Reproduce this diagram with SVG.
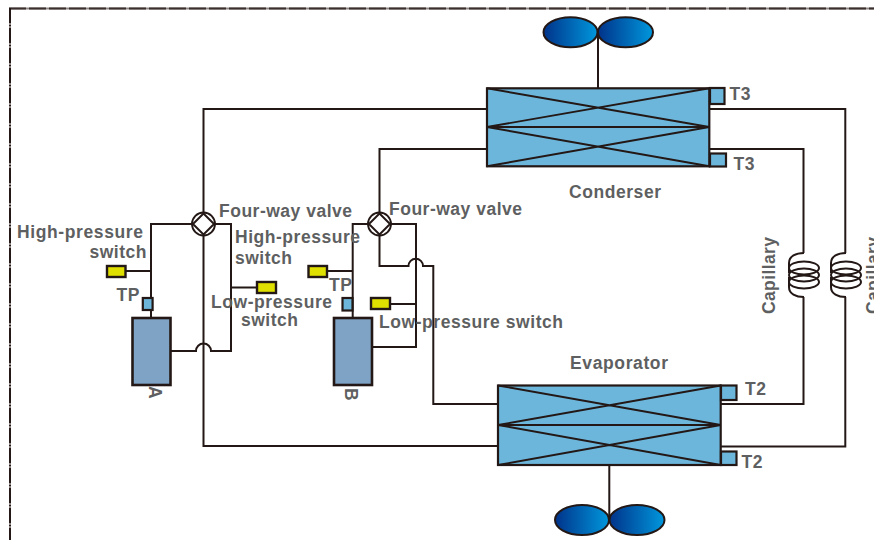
<svg xmlns="http://www.w3.org/2000/svg" width="874" height="540" viewBox="0 0 874 540">
<style>
.ln{fill:none;stroke:#231815;stroke-width:2}
.hx{fill:#6cb6dc;stroke:#231815;stroke-width:2.2}
.x{fill:none;stroke:#231815;stroke-width:1.9}
.tb{fill:#6cb6dc;stroke:#231815;stroke-width:2.2}
.comp{fill:#7fa3c4;stroke:#231815;stroke-width:2.6}
.sw{fill:#dfe000;stroke:#231815;stroke-width:2.4}
.fan{fill:url(#fg);stroke:#231815;stroke-width:2}
.valve{fill:#fff;stroke:#231815;stroke-width:1.9;stroke-linejoin:round}
text{font-family:"Liberation Sans",Arial,sans-serif;font-weight:bold;font-size:17.5px;fill:#5e5f61}
</style>
<defs>
<linearGradient id="fg" x1="0" y1="0" x2="1" y2="0"><stop offset="0" stop-color="#00338a"/><stop offset="1" stop-color="#0097dc"/></linearGradient>
<g id="coil">
<path class="ln" d="M0,-22 C-8,-22 -15,-19 -15,-12 C-15,-8 -15,-6 -15,-2 M-15,2 C-15,6 -15,8 -15,12 C-15,19 -8,22 0,22"/>
<ellipse class="ln" cx="0" cy="-7" rx="15" ry="6.5"/>
<ellipse class="ln" cx="0" cy="0" rx="15" ry="6.5"/>
<ellipse class="ln" cx="0" cy="7" rx="15" ry="6.5"/>
</g>
</defs>
<g id="border" fill="none">
<path d="M9,8.5H874" stroke="#8f8785" stroke-width="1.8"/>
<path d="M9,8.5H874" stroke="#3a2f2d" stroke-width="1.8" stroke-dasharray="17 3"/>
<path d="M10,8V540" stroke="#8f8785" stroke-width="2"/>
<path d="M10,8V540" stroke="#231815" stroke-width="2" stroke-dasharray="15 2 1 2"/>
</g>
<g id="connectors">
<path class="ln" d="M487,109H203.5V212M203.5,236V446H498"/>
<path class="ln" d="M487,149H379.5V212"/>
<path class="ln" d="M709,109H845.3V253M845.3,297V446.5H721"/>
<path class="ln" d="M709,149H803.5V253M803.5,297V404H721"/>
<path class="ln" d="M192,224H151V318M215,224H231V351H211A7.5,7.5 0 0 0 196,351H171"/>
<path class="ln" d="M126,271H151M231,287.5H257"/>
<path class="ln" d="M368,224H352.7V318M391,224H416V347H372"/>
<path class="ln" d="M379.5,235V266H408.5A7.2,7.2 0 0 1 423,266H433.3V404H498"/>
<path class="ln" d="M327,271H352.7M390,304H416"/>
<path class="ln" d="M598,32V88M609.3,465V520"/>
</g>
<g id="valve-a"><circle class="valve" cx="203.5" cy="224" r="11.5"/><path class="valve" d="M203.5,213.5L214,224L203.5,234.5L193,224Z"/></g>
<g id="valve-b"><circle class="valve" cx="379.5" cy="224" r="11.5"/><path class="valve" d="M379.5,213.5L390,224L379.5,234.5L369,224Z"/></g>
<g id="condenser">
<rect class="hx" x="487" y="88.3" width="222.3" height="78"/>
<path class="x" d="M487,88.3L709.3,127M709.3,88.3L487,127M487,127H709.3M487,127L709.3,166.3M709.3,127L487,166.3"/>
</g>
<g id="evaporator">
<rect class="hx" x="498" y="385.5" width="222.7" height="79.5"/>
<path class="x" d="M498,385.5L720.7,425M720.7,385.5L498,425M498,425H720.7M498,425L720.7,465M720.7,425L498,465"/>
</g>
<g id="fan-top"><ellipse class="fan" cx="570.5" cy="32.3" rx="27" ry="15"/><ellipse class="fan" cx="625.5" cy="32.3" rx="27.5" ry="15"/></g>
<g id="fan-bottom"><ellipse class="fan" cx="582" cy="520" rx="27" ry="15"/><ellipse class="fan" cx="637" cy="520" rx="27.5" ry="15"/></g>
<g id="t3-top"><rect class="tb" x="710" y="88" width="14.5" height="16"/><text x="729.5" y="100" textLength="21">T3</text></g>
<g id="t3-bottom"><rect class="tb" x="710" y="153.5" width="16" height="13"/><text x="733.5" y="169.5" textLength="21">T3</text></g>
<g id="t2-top"><rect class="tb" x="721" y="385.5" width="15.5" height="14.5"/><text x="745" y="395" textLength="21">T2</text></g>
<g id="t2-bottom"><rect class="tb" x="721" y="451.5" width="15.5" height="13.5"/><text x="741.5" y="467.5" textLength="21">T2</text></g>
<g id="capillary-1"><use href="#coil" x="804" y="275"/><text transform="translate(774.5,314) rotate(-90)" textLength="77">Capillary</text></g>
<g id="capillary-2"><use href="#coil" x="846" y="275"/><text transform="translate(879,314) rotate(-90)" textLength="77">Capillary</text></g>
<g id="compressor-a"><rect class="comp" x="132.5" y="318" width="38" height="67"/><text transform="translate(148.5,386) rotate(90)">A</text></g>
<g id="compressor-b"><rect class="comp" x="334" y="318" width="38" height="67"/><text transform="translate(345,388) rotate(90)">B</text></g>
<g id="tp-a"><rect class="tb" x="142.8" y="298" width="9.8" height="12"/><text x="116.5" y="300.5" textLength="23">TP</text></g>
<g id="tp-b"><rect class="tb" x="342.5" y="298" width="10" height="12.5"/><text x="329" y="290.5" textLength="23">TP</text></g>
<g id="switch-a-high"><rect class="sw" x="107" y="266" width="18.5" height="11"/><text x="17" y="237.5" textLength="126">High-pressure</text><text x="89.5" y="258" textLength="57">switch</text></g>
<g id="switch-a-low"><rect class="sw" x="257" y="282" width="19" height="11"/><text x="211" y="308" textLength="121">Low-pressure</text><text x="241" y="325.5" textLength="57">switch</text></g>
<g id="switch-a-high-label"><text x="235" y="242.5" textLength="125">High-pressure</text><text x="235" y="264" textLength="57">switch</text></g>
<g id="switch-b-high"><rect class="sw" x="308.5" y="266" width="18.5" height="11"/></g>
<g id="switch-b-low"><rect class="sw" x="371" y="298" width="19" height="11"/><text x="379" y="327.5" textLength="184">Low-pressure switch</text></g>
<text x="219" y="216.5" textLength="133">Four-way valve</text>
<text x="389" y="214.5" textLength="133">Four-way valve</text>
<text x="569" y="197.5" textLength="92">Conderser</text>
<text x="570" y="368.5" textLength="98">Evaporator</text>
</svg>
